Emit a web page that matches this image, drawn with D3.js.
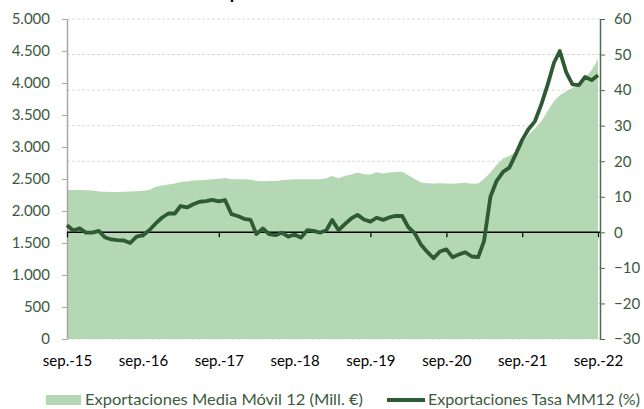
<!DOCTYPE html>
<html>
<head>
<meta charset="utf-8">
<script src="https://cdn.jsdelivr.net/npm/d3@7"></script>
<style>
  body { margin: 0; background: #fff; }
  text { font-family: Lato, "Open Sans", sans-serif; }
</style>
</head>
<body>
<svg id="chart" width="644" height="409"></svg>
<script>
// monthly, sep-2015 .. sep-2022
var startMonth = new Date(2015, 8, 1);
var endMonth = new Date(2022, 8, 1);
var months = d3.timeMonth.range(startMonth, d3.timeMonth.offset(endMonth, 1));

// Exportaciones Media Movil 12 (Mill. EUR), left axis
var mediaMovil = [
  2330, 2330, 2330, 2325, 2320, 2305, 2300, 2295, 2295, 2300, 2305, 2310,
  2315, 2330, 2380, 2400, 2415, 2430, 2455, 2460, 2475, 2480, 2490, 2495,
  2505, 2515, 2495, 2495, 2495, 2490, 2470, 2465, 2470, 2470, 2480, 2490,
  2495, 2495, 2495, 2495, 2495, 2510, 2545, 2510, 2545, 2570, 2600, 2575,
  2570, 2605, 2585, 2600, 2610, 2615, 2560, 2500, 2445, 2435, 2430, 2435,
  2430, 2425, 2435, 2440, 2425, 2430, 2500, 2600, 2720, 2820, 2860, 2920,
  3050, 3190, 3290, 3400, 3560, 3720, 3810, 3870, 3920, 3970, 4080, 4200,
  4370
];

// Exportaciones Tasa MM12 (%), right axis
var tasaMM12 = [
   2.0,  0.5,  1.1, -0.1, -0.1,  0.4, -1.4, -2.0, -2.2, -2.3, -3.0, -1.2,
  -0.8,  0.6,  2.5,  4.1,  5.3,  5.3,  7.4,  7.0,  7.9,  8.6,  8.8,  9.1,
   8.7,  9.1,  5.1,  4.6,  3.8,  3.5, -0.5,  1.1, -0.5, -0.8, -0.1, -1.2,
  -0.6, -1.5,  0.6,  0.4, -0.1,  0.6,  3.5,  0.6,  2.3,  3.9,  4.9,  3.6,
   3.0,  4.1,  3.5,  4.2,  4.6,  4.6,  1.5, -0.2, -3.4, -5.5, -7.3, -5.4,
  -4.8, -7.0, -6.2, -5.6, -6.8, -7.0, -2.5, 10.0, 14.5, 17.0, 18.2, 22.0,
  26.0, 29.0, 31.2, 35.8, 41.4, 47.7, 51.0, 45.0, 41.6, 41.4, 43.7, 42.8,
  44.2
];

var xTickLabels = ["sep.-15", "sep.-16", "sep.-17", "sep.-18", "sep.-19", "sep.-20", "sep.-21", "sep.-22"];
var leftTicks = [0, 500, 1000, 1500, 2000, 2500, 3000, 3500, 4000, 4500, 5000];
var rightTicks = [-30, -20, -10, 0, 10, 20, 30, 40, 50, 60];
var legendLabels = ["Exportaciones Media Móvil 12 (Mill. €)", "Exportaciones Tasa MM12 (%)"];

var data = months.map((m, i) => ({date: m, media: mediaMovil[i], tasa: tasaMM12[i]}));

var margins = {left: 67, right: 44, top: 19, bottom: 70},
    width = 644, height = 409;

var areaColor = "#b4d7b4",
    lineColor = "#2e5a34",
    labelColor = "#3b5a3e";

var svg = d3.select("#chart");

var xScale = d3.scaleTime().domain([startMonth, endMonth]).range([margins.left, 598]);
var yLeft = d3.scaleLinear().domain([0, 5000]).range([height - margins.bottom, margins.top]);
var yRight = d3.scaleLinear().domain([-30, 60]).range([height - margins.bottom, margins.top]);
// one tick each september
var yearTicks = xTickLabels.map((l, i) => d3.timeMonth.offset(startMonth, 12 * i));

// title (cut off at top in the original)
svg.append("text")
    .attr("x", 210).attr("y", -1)
    .attr("font-size", 18).attr("font-weight", "bold")
    .attr("fill", "#000")
    .text("Exportaciones");

// dashed gridlines on right axis values
svg.append("g").selectAll("line")
    .data(rightTicks)
    .join("line")
    .attr("x1", margins.left).attr("x2", width - margins.right)
    .attr("y1", d => yRight(d)).attr("y2", d => yRight(d))
    .attr("stroke", "#d9d9d9")
    .attr("stroke-dasharray", "3,2");

var area = d3.area()
    .x(d => xScale(d.date))
    .y0(yLeft(0))
    .y1(d => yLeft(d.media));

svg.append("path")
    .attr("d", area(data))
    .attr("fill", areaColor);

// left axis
var axLeft = svg.append("g")
    .attr("transform", "translate(" + margins.left + ",0)")
    .call(d3.axisLeft(yLeft).tickValues(leftTicks).tickSize(5).tickSizeOuter(0).tickPadding(12)
        .tickFormat(d => d3.format(",")(d).replace(/,/g, ".")));
axLeft.select(".domain").attr("stroke", "#a6a6a6").attr("stroke-width", 1.5);
axLeft.selectAll(".tick line").attr("stroke", "#a6a6a6");
axLeft.selectAll(".tick text").attr("fill", labelColor).attr("font-size", 15)
    .style("font-family", "Lato, sans-serif");

// right axis
var axRight = svg.append("g")
    .attr("transform", "translate(" + (width - margins.right) + ",0)")
    .call(d3.axisRight(yRight).tickValues(rightTicks).tickSize(5).tickSizeOuter(0).tickPadding(9));
axRight.select(".domain").attr("stroke", "#4a7050").attr("stroke-width", 1.5);
axRight.selectAll(".tick line").attr("stroke", "#4a7050");
axRight.selectAll(".tick text").attr("fill", labelColor).attr("font-size", 15)
    .style("font-family", "Lato, sans-serif");

// zero line with year ticks
var axZero = svg.append("g")
    .attr("transform", "translate(0," + yRight(0) + ")")
    .call(d3.axisBottom(xScale).tickValues(yearTicks).tickSize(5).tickSizeOuter(0).tickFormat(""));
axZero.select(".domain").attr("stroke", "#000").attr("stroke-width", 1.5)
    .attr("d", "M" + margins.left + ",0H" + (width - margins.right));
axZero.selectAll(".tick line").attr("stroke", "#000").attr("stroke-width", 1.2);

// x labels at the bottom
var axBottom = svg.append("g")
    .attr("transform", "translate(0," + (height - margins.bottom) + ")")
    .call(d3.axisBottom(xScale).tickValues(yearTicks).tickSize(0).tickPadding(16)
        .tickFormat((d, i) => xTickLabels[i]));
axBottom.select(".domain").remove();
axBottom.selectAll(".tick text").attr("fill", "#000").attr("font-size", 15)
    .style("font-family", "Lato, sans-serif");

var line = d3.line()
    .x(d => xScale(d.date))
    .y(d => yRight(d.tasa));

svg.append("path")
    .attr("d", line(data))
    .attr("fill", "none")
    .attr("stroke", lineColor)
    .attr("stroke-width", 3.8)
    .attr("stroke-linejoin", "round");

// legend
var legend = svg.append("g");
legend.append("rect")
    .attr("x", 46).attr("y", 395).attr("width", 35).attr("height", 10)
    .attr("fill", areaColor);
legend.append("text")
    .attr("x", 85).attr("y", 405)
    .attr("font-size", 15).attr("fill", labelColor)
    .attr("textLength", 278).attr("lengthAdjust", "spacingAndGlyphs")
    .text(legendLabels[0]);
legend.append("line")
    .attr("x1", 387).attr("x2", 425).attr("y1", 400).attr("y2", 400)
    .attr("stroke", lineColor).attr("stroke-width", 3.8);
legend.append("text")
    .attr("x", 428).attr("y", 405)
    .attr("font-size", 15).attr("fill", labelColor)
    .attr("textLength", 212).attr("lengthAdjust", "spacingAndGlyphs")
    .text(legendLabels[1]);
</script>
</body>
</html>
